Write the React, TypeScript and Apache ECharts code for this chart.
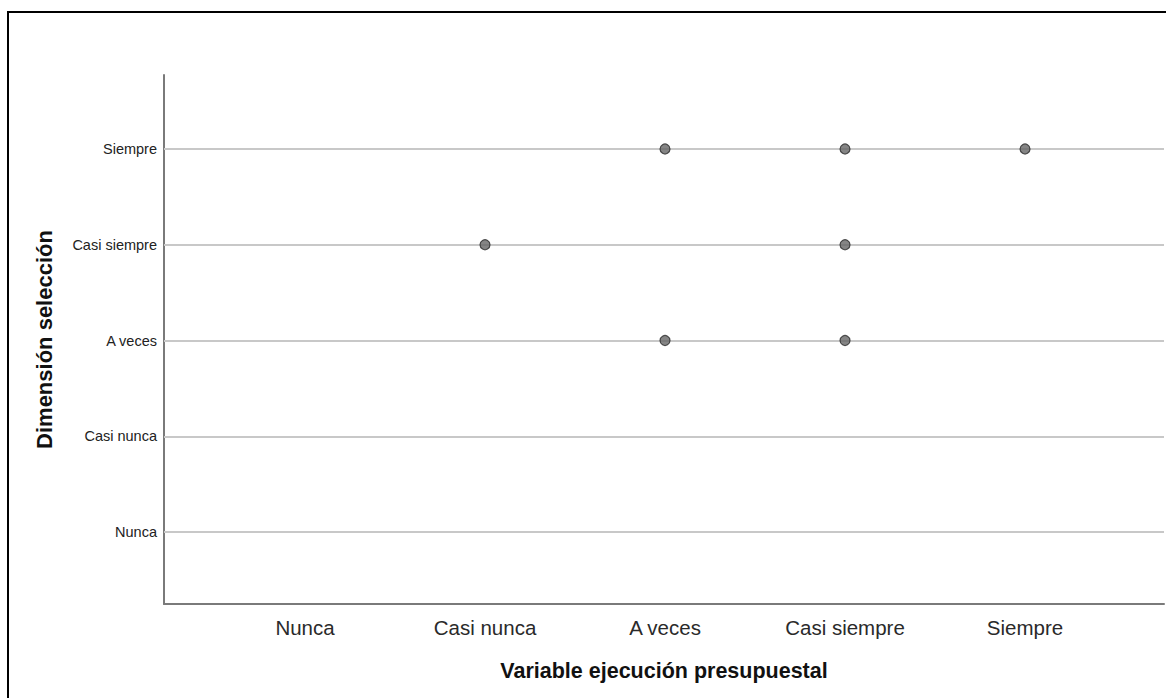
import React, { useEffect, useRef } from "react";
import * as echarts from "echarts";

const levels = ["Nunca", "Casi nunca", "A veces", "Casi siempre", "Siempre"];
const levelValues = [1, 2, 3, 4, 5];
const xValues = [3, 4, 5, 2, 4, 3, 4];
const yValues = [5, 5, 5, 4, 4, 3, 3];
const xTitle = "Variable ejecución presupuestal";
const yTitle = "Dimensión selección";

const FONT = "Arial, 'Liberation Sans', sans-serif";

export default function App() {
  const ref = useRef<HTMLDivElement>(null);
  useEffect(() => {
    document.body.style.margin = "0";
    const chart = echarts.init(ref.current!, null, { renderer: "svg" });
    const points = xValues.map((x, i) => [x, yValues[i]]);
    const fmt = (v: number) => {
      const r = Math.round(v);
      const idx = levelValues.indexOf(r);
      return idx >= 0 && Math.abs(v - r) < 1e-6 ? levels[idx] : "";
    };
    chart.setOption({
      animation: false,
      backgroundColor: "#ffffff",
      textStyle: { fontFamily: FONT },
      grid: { left: 164, top: 75, right: 2, height: 529 },
      xAxis: {
        type: "value",
        min: 0.2167,
        max: 5.772,
        name: xTitle,
        nameLocation: "middle",
        nameGap: 56,
        nameTextStyle: { fontSize: 21.5, fontWeight: "bold", color: "#111", fontFamily: FONT },
        axisLine: { show: true, onZero: false, lineStyle: { color: "#7a7a7a", width: 2 } },
        axisTick: { show: false },
        splitLine: { show: false },
        axisLabel: {
          customValues: levelValues,
          formatter: fmt,
          fontSize: 20.5,
          color: "#2a2a2a",
          margin: 13,
          fontFamily: FONT,
        },
      },
      yAxis: {
        type: "value",
        min: 0.248,
        max: 5.773,
        name: yTitle,
        nameLocation: "middle",
        nameGap: 109,
        nameRotate: 90,
        nameTextStyle: { fontSize: 22, fontWeight: "bold", color: "#111", fontFamily: FONT },
        axisLine: { show: true, onZero: false, lineStyle: { color: "#7a7a7a", width: 2 } },
        axisTick: { show: false },
        splitLine: { show: false },
        axisLabel: {
          customValues: levelValues,
          formatter: fmt,
          fontSize: 14.5,
          color: "#222",
          margin: 7,
          fontFamily: FONT,
        },
      },
      series: [
        {
          type: "scatter",
          data: points,
          symbol: "circle",
          symbolSize: 10,
          z: 5,
          itemStyle: { color: "#666666", borderColor: "#2a2a2a", borderWidth: 1.2 },
          markLine: {
            silent: true,
            symbol: "none",
            label: { show: false },
            lineStyle: { color: "#c8c8c8", width: 2, type: "solid" },
            data: levelValues.map((v) => ({ yAxis: v })),
            z: 1,
          },
        },
      ],
      graphic: [
        {
          type: "rect",
          shape: { x: 8, y: 12, width: 1170, height: 700 },
          style: { fill: "none", stroke: "#000", lineWidth: 2 },
          silent: true,
        },
      ],
    });
    return () => chart.dispose();
  }, []);
  return <div ref={ref} style={{ position: "fixed", left: 0, top: 0, width: 1166, height: 698 }} />;
}
